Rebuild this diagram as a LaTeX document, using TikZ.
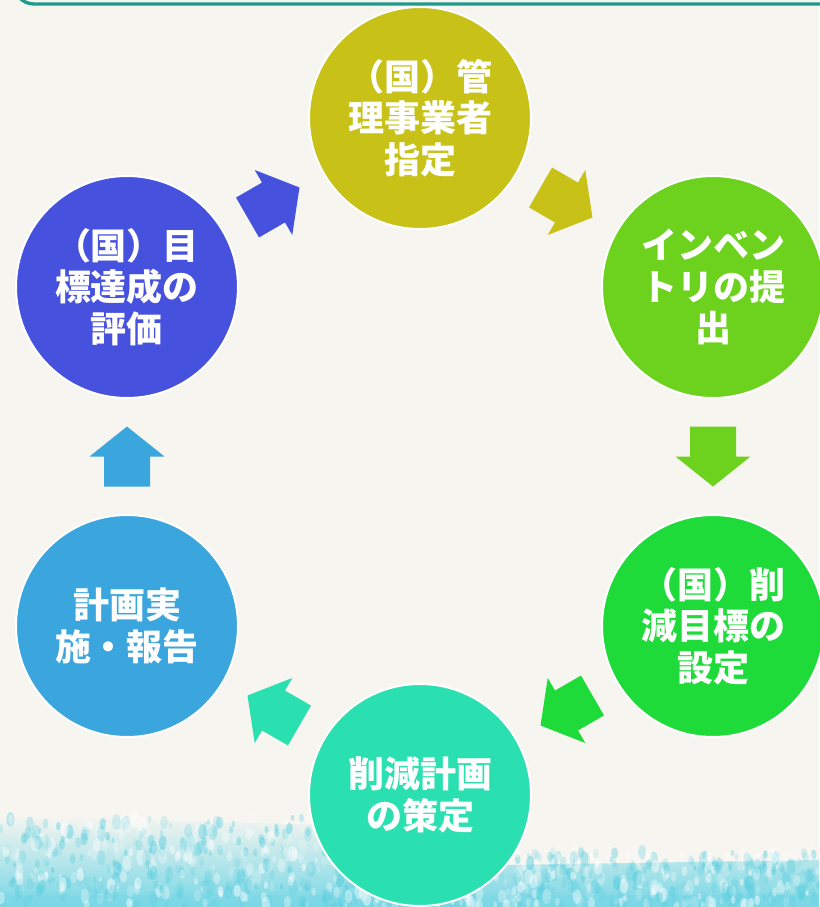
\documentclass[tikz,border=0pt]{standalone}
\usepackage{fontspec}
\newfontfamily\cjk{Noto Sans CJK JP}
\usetikzlibrary{calc}
\definecolor{paper}{HTML}{F7F5F0}
\definecolor{frame}{HTML}{1E9A8C}
\definecolor{cTop}{HTML}{C7C118}
\definecolor{cRT}{HTML}{6CD21D}
\definecolor{cRB}{HTML}{1FDB3A}
\definecolor{cBot}{HTML}{2ADFB0}
\definecolor{cLB}{HTML}{3AA6DD}
\definecolor{cLT}{HTML}{4651DE}
\definecolor{water}{HTML}{5CCFE0}
\begin{document}
\begin{tikzpicture}[x=0.75pt,y=-0.75pt,
  stage/.style={circle, minimum size=222*0.75pt, inner sep=0pt, draw=white, line width=1.5pt,
    text=white, align=center, font=\cjk\bfseries\fontsize{27pt}{31pt}\selectfont},
  blockarrow/.pic={\path[pic actions] (-30,-23) -- (0,-23) -- (0,-37.5) -- (30,0) -- (0,37.5) -- (0,23) -- (-30,23) -- cycle;}
]
\useasboundingbox (0,0) rectangle (819,907);
\fill[paper] (0,0) rectangle (819,907);
% watercolor band at the bottom
\begin{scope}
\clip (0,0) rectangle (819,907);
\shade[top color=paper, bottom color=water!85!white]
  (0,815) -- (320,825) -- (500,865) -- (819,860) -- (819,907) -- (0,907) -- cycle;
\fill[water!80!white, opacity=0.6] (0,895) rectangle (819,907);
\pgfmathsetseed{11}
\foreach \i in {1,...,900}{
  \pgfmathsetmacro\xx{rnd*819}
  \pgfmathsetmacro\hh{(\xx<330) ? 90 : 55}
  \pgfmathsetmacro\yy{907-\hh*rnd}
  \pgfmathsetmacro\rr{1.5+3*rnd}
  \pgfmathsetmacro\op{0.15+0.35*rnd}
  \pgfmathsetmacro\wh{rnd<0.45 ? 1 : 0}
  \ifdim\wh pt>0.5pt
    \fill[white, opacity=\op] (\xx,\yy) ellipse ({\rr} and {\rr*1.8});
  \else
    \fill[water, opacity=\op] (\xx,\yy) ellipse ({\rr} and {\rr*1.8});
  \fi
}
\end{scope}
% frame line at the top
\draw[frame, line width=2.5pt, rounded corners=15pt] (14,-60) -- (14,4) -- (830,4);
% stages
\node[stage, fill=cTop] (top) at (420,118) {（国）管\\理事業者\\指定};
\node[stage, fill=cRT]  (rt)  at (713,287) {インベン\\トリの提\\出};
\node[stage, fill=cRB]  (rb)  at (713,626) {（国）削\\減目標の\\設定};
\node[stage, fill=cBot] (bot) at (420,795) {削減計画\\の策定};
\node[stage, fill=cLB]  (lb)  at (127,626) {計画実\\施・報告};
\node[stage, fill=cLT]  (lt)  at (127,287) {（国）目\\標達成の\\評価};
% block arrows between stages
\pic[fill=cTop, rotate=-30]  at ($(top)!0.5!(rt)$) {blockarrow};
\pic[fill=cRT,  rotate=-90]  at ($(rt)!0.5!(rb)$) {blockarrow};
\pic[fill=cRB,  rotate=-150] at ($(rb)!0.5!(bot)$) {blockarrow};
\pic[fill=cBot, rotate=150]  at ($(bot)!0.5!(lb)$) {blockarrow};
\pic[fill=cLB,  rotate=90]   at ($(lb)!0.5!(lt)$) {blockarrow};
\pic[fill=cLT,  rotate=30]   at ($(lt)!0.5!(top)$) {blockarrow};
\end{tikzpicture}
\end{document}
